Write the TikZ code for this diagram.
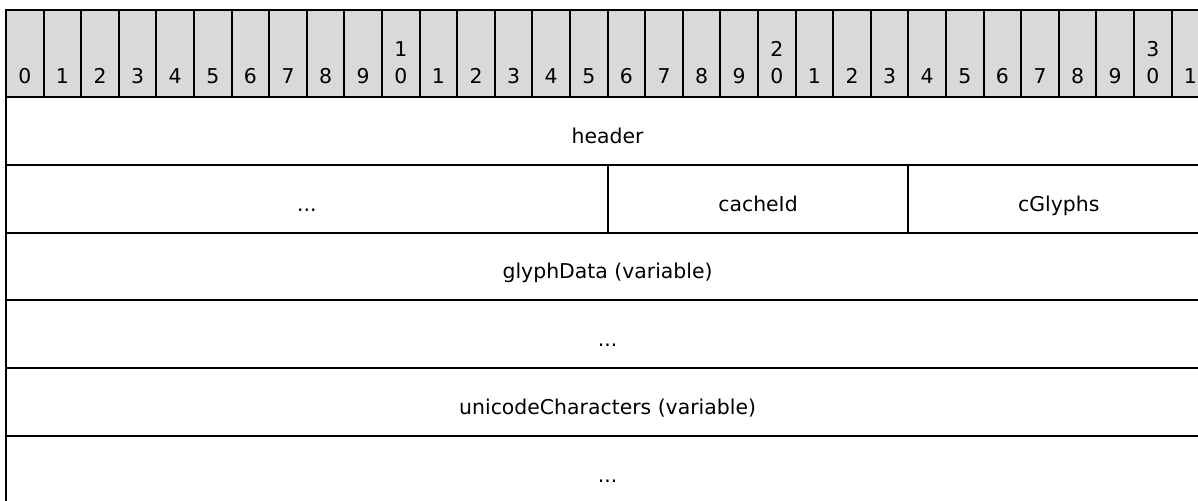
\documentclass[tikz,border=0pt]{standalone}
\usepackage{fontspec}
\setmainfont{DejaVu Sans}
\definecolor{bitgray}{HTML}{D9D9D9}
\tikzset{
  bitcell/.style={draw,fill=bitgray,line width=1pt,minimum width=18.8pt,minimum height=43.5pt,anchor=north west,inner sep=0pt,outer sep=0pt},
  bitnum/.style={anchor=base,inner sep=0pt},
  field/.style={draw,line width=1pt,minimum height=33.9pt,anchor=north west,inner sep=0pt,outer sep=0pt,text height=12.4pt,text depth=0pt},
}
\begin{document}
\begin{tikzpicture}[x=0.5pt,y=-0.5pt,font=\fontsize{10.2}{13.3}\selectfont]
\useasboundingbox (0,0) rectangle (1198,500);
\clip (0,0) rectangle (1198,500);
\pgfmathsetmacro{\cw}{37.6}
% bit ruler
\foreach \i in {0,...,31}{
  \pgfmathtruncatemacro{\u}{mod(\i,10)}
  \node[bitcell] (b\i) at (6+\cw*\i,10) {};
  \node[bitnum] (n\i) at (24.8+\cw*\i,83) {\u};
}
\foreach \tens in {1,2,3}
  \node[bitnum] (m\tens) at (24.8+\cw*\tens*10,56.6) {\tens};
% fields
\node[field,minimum width=601.6pt] (hdr) at (6,97) {header};
\node[field,minimum width=300.8pt] (pad) at (6,164.8) {...};
\node[field,minimum width=150.4pt] (cacheid) at (607.6,164.8) {cacheId};
\node[field,minimum width=150.4pt] (cglyphs) at (908.4,164.8) {cGlyphs};
\node[field,minimum width=601.6pt] (glyphdata) at (6,232.6) {glyphData (variable)};
\node[field,minimum width=601.6pt] (more1) at (6,300.4) {...};
\node[field,minimum width=601.6pt] (unichars) at (6,368.2) {unicodeCharacters (variable)};
\node[field,minimum width=601.6pt] (more2) at (6,436) {...};
\end{tikzpicture}
\end{document}
